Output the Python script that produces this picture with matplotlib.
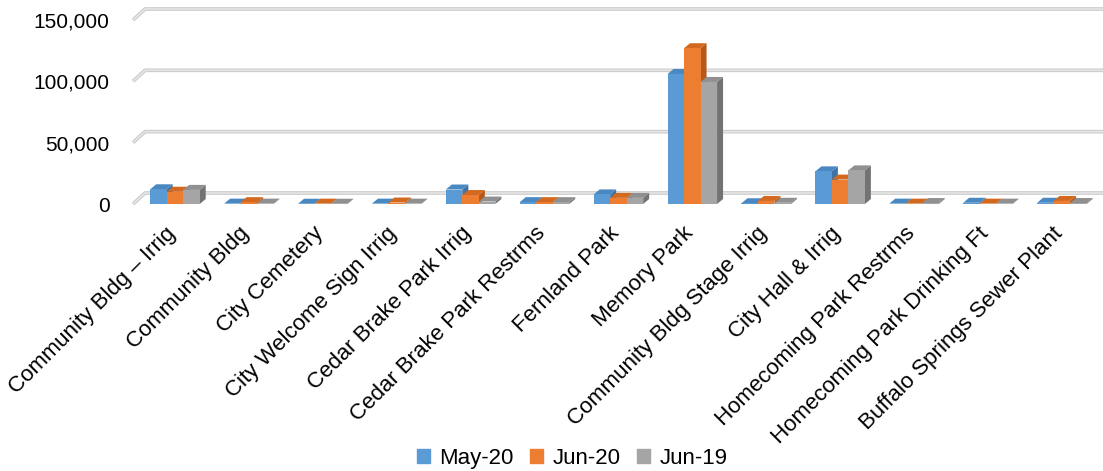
import numpy as np
import matplotlib.pyplot as plt
from matplotlib.patches import Polygon, Patch
from matplotlib.transforms import ScaledTranslation

plt.rcParams["font.family"] = ["Liberation Sans", "DejaVu Sans"]

SITES = ["Community Bldg \u2013 Irrig", "Community Bldg", "City Cemetery",
         "City Welcome Sign Irrig", "Cedar Brake Park Irrig",
         "Cedar Brake Park Restrms", "Fernland Park", "Memory Park",
         "Community Bldg Stage Irrig", "City Hall & Irrig",
         "Homecoming Park Restrms", "Homecoming Park Drinking Ft",
         "Buffalo Springs Sewer Plant"]
SERIES = ["May-20", "Jun-20", "Jun-19"]
MAY_20 = [12000, 300, 200, 300, 11800, 1500, 7800, 106000, 600, 26600, 300, 1000, 1000]
JUN_20 = [10000, 1500, 300, 1200, 7300, 1500, 5000, 127000, 2500, 19900, 300, 300, 2500]
JUN_19 = [11500, 300, 200, 300, 2000, 1500, 5000, 99500, 1000, 27400, 800, 300, 800]
Y_TICKS = [0, 50000, 100000, 150000]

FRONT = ["#5B9BD5", "#ED7D31", "#A5A5A5"]
TOP = ["#4A88C2", "#D2691F", "#909090"]
SIDE = ["#3E73A6", "#B5581A", "#737373"]

W, H = 1103, 471
fig = plt.figure(figsize=(W / 100, H / 100), dpi=100)
# axes box in pixel terms: front plane from x=133 to the right edge, 0 at y=204
ax = fig.add_axes([133 / W, 1 - 204 / H, (W - 133) / W, 184 / H])
xmin, xmax = -0.568, 12.557
ax.set_xlim(xmin, xmax)
ax.set_ylim(0, 150000)
for s in ax.spines.values():
    s.set_visible(False)

px_x = (xmax - xmin) / (W - 133)
px_y = 150000 / 184

# back wall gridlines with the short receding stub on the left
wall_dx, wall_dy = 12 * px_x, 11 * px_y
for v in Y_TICKS:
    xs = [xmin, xmin + wall_dx, xmax + 1]
    ys = [v, v + wall_dy, v + wall_dy]
    ax.plot(xs, ys, color="#C8C8C8", lw=2.6, clip_on=False, zorder=1,
            solid_capstyle="butt")
    ax.plot(xs, ys, color="#E6E6E6", lw=1.2, clip_on=False, zorder=1.1,
            solid_capstyle="butt")

# 3D-looking columns: front face, top and right side
bar_w = 16.5 * px_x
dep_x, dep_y = 6 * px_x, 5 * px_y
x = np.arange(len(SITES))
data = [MAY_20, JUN_20, JUN_19]
for c in x:
    for k, vals in enumerate(data):
        v = vals[c]
        x0 = c + (k - 1.5) * bar_w
        x1 = x0 + bar_w
        side = [(x1, 0), (x1 + dep_x, dep_y), (x1 + dep_x, v + dep_y), (x1, v)]
        top = [(x0, v), (x0 + dep_x, v + dep_y), (x1 + dep_x, v + dep_y), (x1, v)]
        ax.add_patch(Polygon(side, closed=True, fc=SIDE[k], ec="none", zorder=3))
        ax.add_patch(Polygon(top, closed=True, fc=TOP[k], ec="none", zorder=3))
        ax.bar(x0, v, bar_w, align="edge", color=FRONT[k], zorder=3)

ax.set_yticks(Y_TICKS)
ax.set_yticklabels([f"{t:,}" for t in Y_TICKS])
ax.tick_params(axis="y", length=0, pad=17, labelsize=15)
ax.set_xticks([])

# rotated category labels hanging below each group
for c, name in zip(x, SITES):
    trans = ax.transData + ScaledTranslation(-10 / 100, -19 / 100, fig.dpi_scale_trans)
    ax.text(c, 0, name, rotation=45, ha="right", va="top",
            rotation_mode="anchor", fontsize=16, transform=trans)

handles = [Patch(color=FRONT[k], label=SERIES[k]) for k in range(3)]
fig.legend(handles=handles, loc="lower center", bbox_to_anchor=(572 / W, -0.038),
           ncol=3, frameon=False, fontsize=16, handlelength=0.6,
           handleheight=0.6, handletextpad=0.4, columnspacing=0.75)

fig.savefig("out.png", dpi=100)
